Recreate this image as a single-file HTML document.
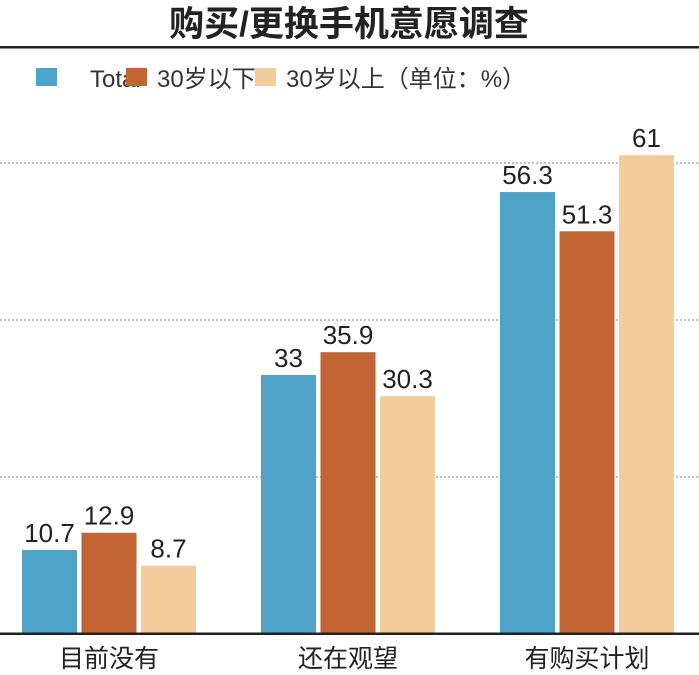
<!DOCTYPE html>
<html><head><meta charset="utf-8"><style>
body{margin:0;background:#fff;width:699px;height:670px;overflow:hidden;font-family:"Liberation Sans","Noto Sans CJK SC",sans-serif;}
</style></head><body>
<svg width="699" height="670" xmlns="http://www.w3.org/2000/svg" style="font-family:'Liberation Sans','Noto Sans CJK SC',sans-serif">
<text x="349" y="36" text-anchor="middle" font-size="35" font-weight="bold" fill="#222">购买/更换手机意愿调查</text>
<rect x="0" y="46" width="699" height="2.5" fill="#222"/>
<g font-size="24" fill="#333">
<rect x="36" y="68" width="21" height="18" fill="#4fa3c8"/>
<text x="90" y="87">Total</text>
<rect x="126" y="68" width="21" height="18" fill="#c26535"/>
<text x="157" y="87">30岁以下</text>
<rect x="255" y="68" width="21" height="18" fill="#f2cc9a"/>
<text x="286" y="87">30岁以上（单位：%）</text>
</g>
<g id="grid"></g><g id="bars"></g><g id="labels"></g>
<rect x="0" y="632.5" width="699" height="2.5" fill="#222"/>
</svg>
<script>
const categories=["目前没有","还在观望","有购买计划"];
const seriesNames=["Total","30岁以下","30岁以上"];
const totalValues=[10.7,33,56.3];
const under30Values=[12.9,35.9,51.3];
const over30Values=[8.7,30.3,61];
const gridValues=[20,40,60];
const colors=["#4fa3c8","#c26535","#f2cc9a"];
const NS="http://www.w3.org/2000/svg";
const baseY=634,pxPerUnit=7.85;
function y(v){return baseY-v*pxPerUnit;}
function groupX(i){return 22+i*239;}
const barW=55,step=59.5;
const grid=document.getElementById('grid'),bars=document.getElementById('bars'),labels=document.getElementById('labels');
gridValues.forEach(g=>{
const l=document.createElementNS(NS,'line');
l.setAttribute('x1',0);l.setAttribute('x2',699);l.setAttribute('y1',y(g));l.setAttribute('y2',y(g));
l.setAttribute('stroke','#aaa');l.setAttribute('stroke-width','1.5');l.setAttribute('stroke-dasharray','2 2');


grid.appendChild(l);
});
const series=[totalValues,under30Values,over30Values];
categories.forEach((c,i)=>{
series.forEach((arr,s)=>{
const v=arr[i];const x=groupX(i)+s*step;
const r=document.createElementNS(NS,'rect');
r.setAttribute('x',x);r.setAttribute('y',y(v));r.setAttribute('width',barW);r.setAttribute('height',baseY-y(v));r.setAttribute('fill',colors[s]);


bars.appendChild(r);
const t=document.createElementNS(NS,'text');
t.setAttribute('x',x+barW/2);t.setAttribute('y',y(v)-8);t.setAttribute('text-anchor','middle');t.setAttribute('font-size','26');t.setAttribute('fill','#222');
t.textContent=v;


labels.appendChild(t);
});
const ct=document.createElementNS(NS,'text');
ct.setAttribute('x',groupX(i)+step+barW/2);ct.setAttribute('y',667);ct.setAttribute('text-anchor','middle');ct.setAttribute('font-size','25');ct.setAttribute('fill','#222');
ct.textContent=c;


labels.appendChild(ct);
});
</script>
</body></html>
